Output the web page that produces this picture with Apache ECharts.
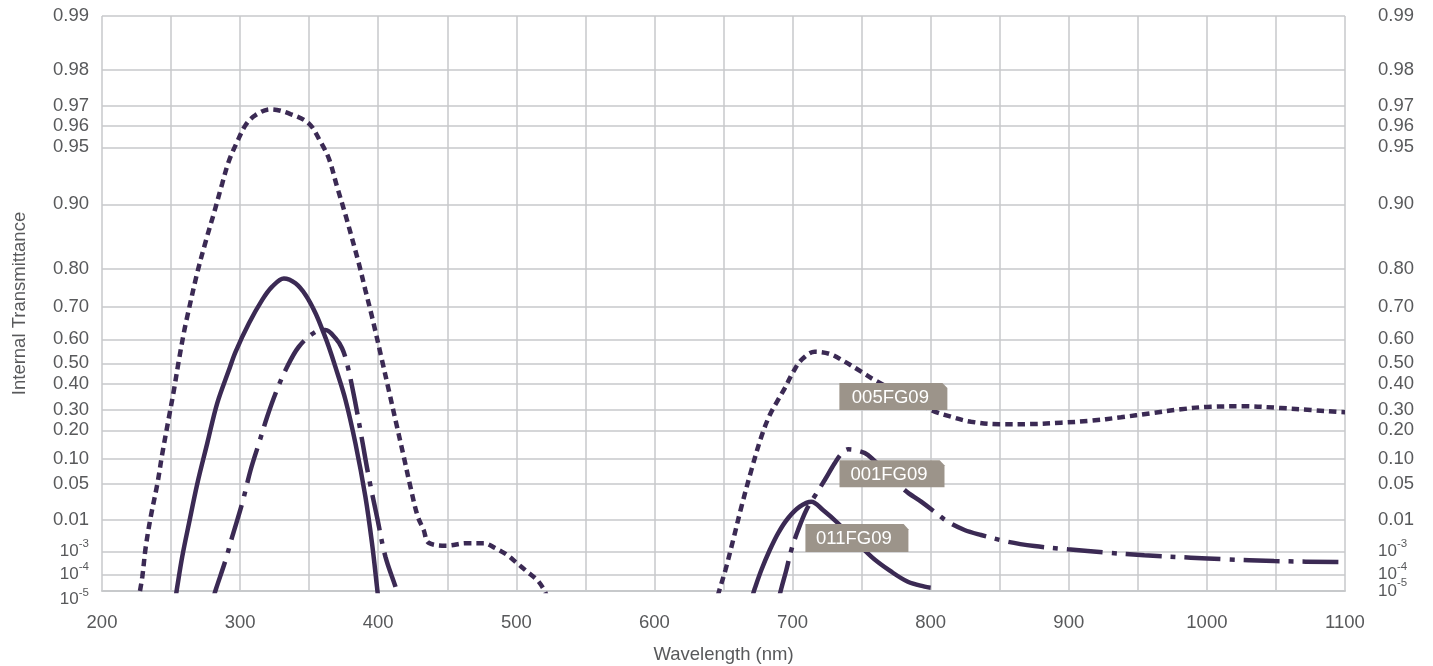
<!DOCTYPE html>
<html><head><meta charset="utf-8">
<script src="https://cdn.jsdelivr.net/npm/echarts@6/dist/echarts.min.js"></script>
<style>html,body{margin:0;padding:0;background:#fff}#c{width:1433px;height:666px}</style>
</head><body><div id="c"></div>
<script>
// ---- y scale definition (transmittance ticks) ----
const tickT = [1e-5, 1e-4, 1e-3, 0.01, 0.05, 0.10, 0.20, 0.30, 0.40, 0.50, 0.60, 0.70, 0.80, 0.90, 0.95, 0.96, 0.97, 0.98, 0.99];
const tickLabels = ['10^-5','10^-4','10^-3','0.01','0.05','0.10','0.20','0.30','0.40','0.50','0.60','0.70','0.80','0.90','0.95','0.96','0.97','0.98','0.99'];
// axis scale: relative spacing of the non-uniform transmittance ticks
const tickScale = [0, 16.3, 39.3, 71, 107.3, 132.3, 160.7, 181.5, 207.3, 227.7, 251.7, 284.3, 322, 386.7, 443.7, 465, 485.3, 521.3, 575];

// ---- x range ----
const xMin = 200, xMax = 1100;

// ---- series: 005FG09 (dotted) ----
const wl005 = [227.5, 229.2, 231.7, 235.3, 240.1, 243.7, 248.5, 252.1, 255.7, 259.4, 261.7, 268.9, 275, 281, 287, 291.9, 297.9, 304, 311.2, 322.1, 336.5, 349.7, 358.2, 364.2, 370.2, 376.3, 385.9, 390.7, 395.5, 402.7, 407.6, 413.6, 418.5, 423.3, 428.5, 432.9, 436.5, 449.8, 463.3, 476.5, 485, 493.4, 500.6, 507.9, 515.1, 519.9, 522,
  null,
  645.8, 647.4, 651.4, 657, 663, 670.2, 677.4, 683.5, 689.5, 694.4, 700.4, 706.4, 716.1, 726.9, 737.7, 749.7, 759.4, 800.4, 814.8, 829.3, 849.8, 872.7, 894.4, 916.1, 937.8, 959.5, 981.2, 1002.9, 1027, 1053.5, 1075.2, 1095.8, 1100];
const t005 = [1e-5, 7.6e-5, 1.44e-3, 0.0136, 0.05, 0.119, 0.264, 0.376, 0.514, 0.623, 0.669, 0.789, 0.842, 0.886, 0.918, 0.938, 0.9526, 0.9605, 0.9654, 0.9682, 0.9659, 0.9613, 0.9526, 0.9404, 0.9154, 0.8835, 0.809, 0.744, 0.669, 0.514, 0.376, 0.217, 0.107, 0.0467, 0.0145, 4.84e-3, 1.92e-3, 1.55e-3, 1.84e-3, 1.84e-3, 1.28e-3, 7.2e-4, 3.13e-4, 1.35e-4, 4.7e-5, 1.27e-5, 5e-6,
  null,
  5e-6, 1.47e-5, 1.6e-4, 2.34e-3, 0.0247, 0.0774, 0.1775, 0.2736, 0.337, 0.383, 0.457, 0.514, 0.548, 0.539, 0.507, 0.459, 0.418, 0.2976, 0.265, 0.241, 0.229, 0.230, 0.2365, 0.246, 0.2625, 0.282, 0.3008, 0.311, 0.3124, 0.3058, 0.2976, 0.288, 0.287];

// ---- series: 011FG09 (solid) ----
const wl011 = [253.5, 254.5, 258.1, 263, 269, 276.2, 283.4, 291.9, 296.7, 306.4, 316, 323.2, 331.7, 340.1, 347.4, 354.6, 360.6, 364.2, 369.1, 376.3, 383.5, 390.7, 395.5, 399.1, 399.8,
  null,
  671, 672.7, 677.4, 683.5, 689.5, 696.7, 705.2, 713.6, 722, 732.9, 757, 771.5, 783.5, 795.6, 800];
const t011 = [5e-6, 1.84e-5, 6.1e-4, 7.9e-3, 0.05, 0.154, 0.324, 0.467, 0.548, 0.649, 0.718, 0.753, 0.775, 0.762, 0.731, 0.680, 0.618, 0.569, 0.48, 0.337, 0.154, 0.0357, 1.84e-3, 1.84e-5, 5e-6,
  null,
  5e-6, 1.47e-5, 1.6e-4, 1.13e-3, 3.8e-3, 0.0119, 0.0247, 0.0302, 0.021, 7.9e-3, 6.1e-4, 1.35e-4, 3.7e-5, 1.84e-5, 1.6e-5];

// ---- series: 001FG09 (dash-dot) ----
const wl001 = [281, 282.7, 289.5, 294.3, 301.5, 307.6, 313.6, 319.6, 325.7, 332.9, 342.5, 354.6, 361.8, 369.1, 373.8, 377.4, 383.5, 388.3, 393.1, 399.1, 405.2, 412.5, 414.5,
  null,
  690.5, 691.9, 695.5, 699.1, 704, 710, 716.1, 723.3, 730.5, 735.3, 740.2, 747.4, 754.6, 781.1, 793.1, 802.8, 812.4, 824.5, 836.5, 855.8, 875.1, 899.2, 928.1, 954.7, 988.4, 1012.5, 1048.7, 1094.5, 1100];
const t001 = [5e-6, 1.47e-5, 4.36e-4, 2.97e-3, 0.0284, 0.0774, 0.154, 0.265, 0.363, 0.467, 0.569, 0.623, 0.6285, 0.603, 0.5625, 0.50, 0.324, 0.166, 0.064, 0.0136, 6.1e-4, 1.84e-5, 5e-6,
  null,
  5e-6, 1.47e-5, 1.6e-4, 1.13e-3, 4.84e-3, 0.021, 0.0364, 0.0574, 0.0908, 0.1166, 0.133, 0.128, 0.113, 0.0431, 0.0302, 0.0191, 8.8e-3, 4.84e-3, 3.37e-3, 2.06e-3, 1.51e-3, 1.19e-3, 9.05e-4, 7.0e-4, 5.5e-4, 4.7e-4, 3.94e-4, 3.56e-4, 3.55e-4];

// ---- annotations ----
const annoText = ['005FG09', '001FG09', '011FG09'];
const annoWl = [773, 772, 746.6];
const annoT = [0.35, 0.07, 2.7e-3];

// ---- scale transform ----
function toU(t) {
  const n = tickT.length;
  if (t <= tickT[0]) {
    const lt = Math.log10(t), l0 = Math.log10(tickT[0]), l1 = Math.log10(tickT[1]);
    return tickScale[0] + (lt - l0) / (l1 - l0) * (tickScale[1] - tickScale[0]);
  }
  for (let i = 0; i < n - 1; i++) {
    const a = tickT[i], b = tickT[i + 1];
    if (t <= b) {
      let f;
      if (b <= 0.01) f = (Math.log10(t) - Math.log10(a)) / (Math.log10(b) - Math.log10(a));
      else f = (t - a) / (b - a);
      return tickScale[i] + f * (tickScale[i + 1] - tickScale[i]);
    }
  }
  return tickScale[n - 1];
}
function build(wl, tv) {
  return wl.map((w, i) => (w == null || tv[i] == null) ? [600, '-'] : [w, toU(tv[i])]);
}
function makeFmt(bTag, sTag) {
  return function (v) {
    let idx = 0, best = 1e9;
    tickScale.forEach((u, i) => { const d = Math.abs(u - v); if (d < best) { best = d; idx = i; } });
    const s = tickLabels[idx];
    if (s.indexOf('^') >= 0) {
      const p = s.split('^');
      return '{' + bTag + '|' + p[0] + '}{' + sTag + '|' + p[1] + '}';
    }
    return s;
  };
}

const TXT = '#58595b';
const GRID = '#c7c9cb';
const LINE = '#3b2a54';
const FONT = 'Liberation Sans, Arial, Helvetica, sans-serif';
const FS = 18.5;
const richY = {
  b: { fontSize: 17, color: TXT, fontFamily: FONT, lineHeight: 9 },
  s: { fontSize: 11.5, color: TXT, fontFamily: FONT, lineHeight: 9, verticalAlign: 'bottom', padding: [0, 0, 6.5, 0] },
  bl: { fontSize: 17, color: TXT, fontFamily: FONT, lineHeight: 9, verticalAlign: 'top', padding: [4, 0, 0, 0] },
  sl: { fontSize: 11.5, color: TXT, fontFamily: FONT, lineHeight: 9, verticalAlign: 'top' }
};
const mainTicks = tickScale.slice(1);
const minTick = [tickScale[0]];

const chart = echarts.init(document.getElementById('c'), null, { renderer: 'canvas' });
const lineBase = { type: 'line', showSymbol: false, symbol: 'none', smooth: 0.35, connectNulls: false, animation: false };
const yBase = { type: 'value', min: 0, max: 575, axisLine: { show: false }, splitLine: { show: false } };
const yLabelBase = { color: TXT, fontSize: FS, fontFamily: FONT, rich: richY, showMinLabel: true, showMaxLabel: true, hideOverlap: false };
chart.setOption({
  animation: false,
  backgroundColor: '#ffffff',
  grid: { left: 102, right: 88, top: 16, bottom: 75, outerBoundsMode: 'none', containLabel: false },
  xAxis: {
    type: 'value', min: xMin, max: xMax, interval: 50,
    axisLine: { show: true, lineStyle: { color: GRID, width: 2 } },
    axisTick: { show: false },
    splitLine: { show: true, lineStyle: { color: GRID, width: 1.5 } },
    axisLabel: { formatter: v => (v % 100 === 0 ? String(v) : ''), margin: 22, color: TXT, fontSize: FS, fontFamily: FONT },
    name: 'Wavelength (nm)', nameLocation: 'middle', nameGap: 54,
    nameTextStyle: { color: TXT, fontSize: FS, fontFamily: FONT }
  },
  yAxis: [
    Object.assign({}, yBase, {
      position: 'left',
      axisTick: { show: false, customValues: tickScale },
      splitLine: { show: true, lineStyle: { color: GRID, width: 1.5 } },
      axisLabel: Object.assign({}, yLabelBase, { customValues: mainTicks, margin: 13, formatter: makeFmt('b', 's') }),
      name: 'Internal Transmittance', nameLocation: 'middle', nameGap: 73,
      nameTextStyle: { color: TXT, fontSize: FS, fontFamily: FONT }
    }),
    Object.assign({}, yBase, {
      position: 'right',
      axisTick: { show: false, customValues: mainTicks },
      axisLabel: Object.assign({}, yLabelBase, { customValues: mainTicks, margin: 33, formatter: makeFmt('b', 's') })
    }),
    Object.assign({}, yBase, {
      position: 'left',
      axisTick: { show: false, customValues: minTick },
      axisLabel: Object.assign({}, yLabelBase, { customValues: minTick, margin: 13, formatter: makeFmt('bl', 'sl') })
    }),
    Object.assign({}, yBase, {
      position: 'right',
      axisTick: { show: false, customValues: minTick },
      axisLabel: Object.assign({}, yLabelBase, { customValues: minTick, margin: 33, formatter: makeFmt('b', 's') })
    })
  ],
  series: [
    Object.assign({}, lineBase, { name: '005FG09', data: build(wl005, t005), lineStyle: { color: LINE, width: 4.5, type: [7.5, 5], cap: 'butt' } }),
    Object.assign({}, lineBase, { name: '011FG09', data: build(wl011, t011), lineStyle: { color: LINE, width: 4.5, type: 'solid' } }),
    Object.assign({}, lineBase, { name: '001FG09', data: build(wl001, t001), lineStyle: { color: LINE, width: 4.5, type: [36, 9, 5, 9], cap: 'butt' } }),
    {
      type: 'scatter', data: [], z: 10, silent: true,
      markPoint: {
        symbol: 'path://M0,0 L103,0 L108,5 L108,27 L0,27 Z',
        symbolKeepAspect: false,
        itemStyle: { color: '#9c948a' },
        label: { show: true, position: 'inside', color: '#ffffff', fontSize: FS, fontFamily: FONT, offset: [-3, 1] },
        data: annoText.map((t, i) => ({
          coord: [annoWl[i], toU(annoT[i])], value: t, name: t,
          symbolSize: [[108, 27], [105, 27], [103, 28]][i],
          label: { formatter: t }
        }))
      }
    }
  ]
});
</script></body></html>
